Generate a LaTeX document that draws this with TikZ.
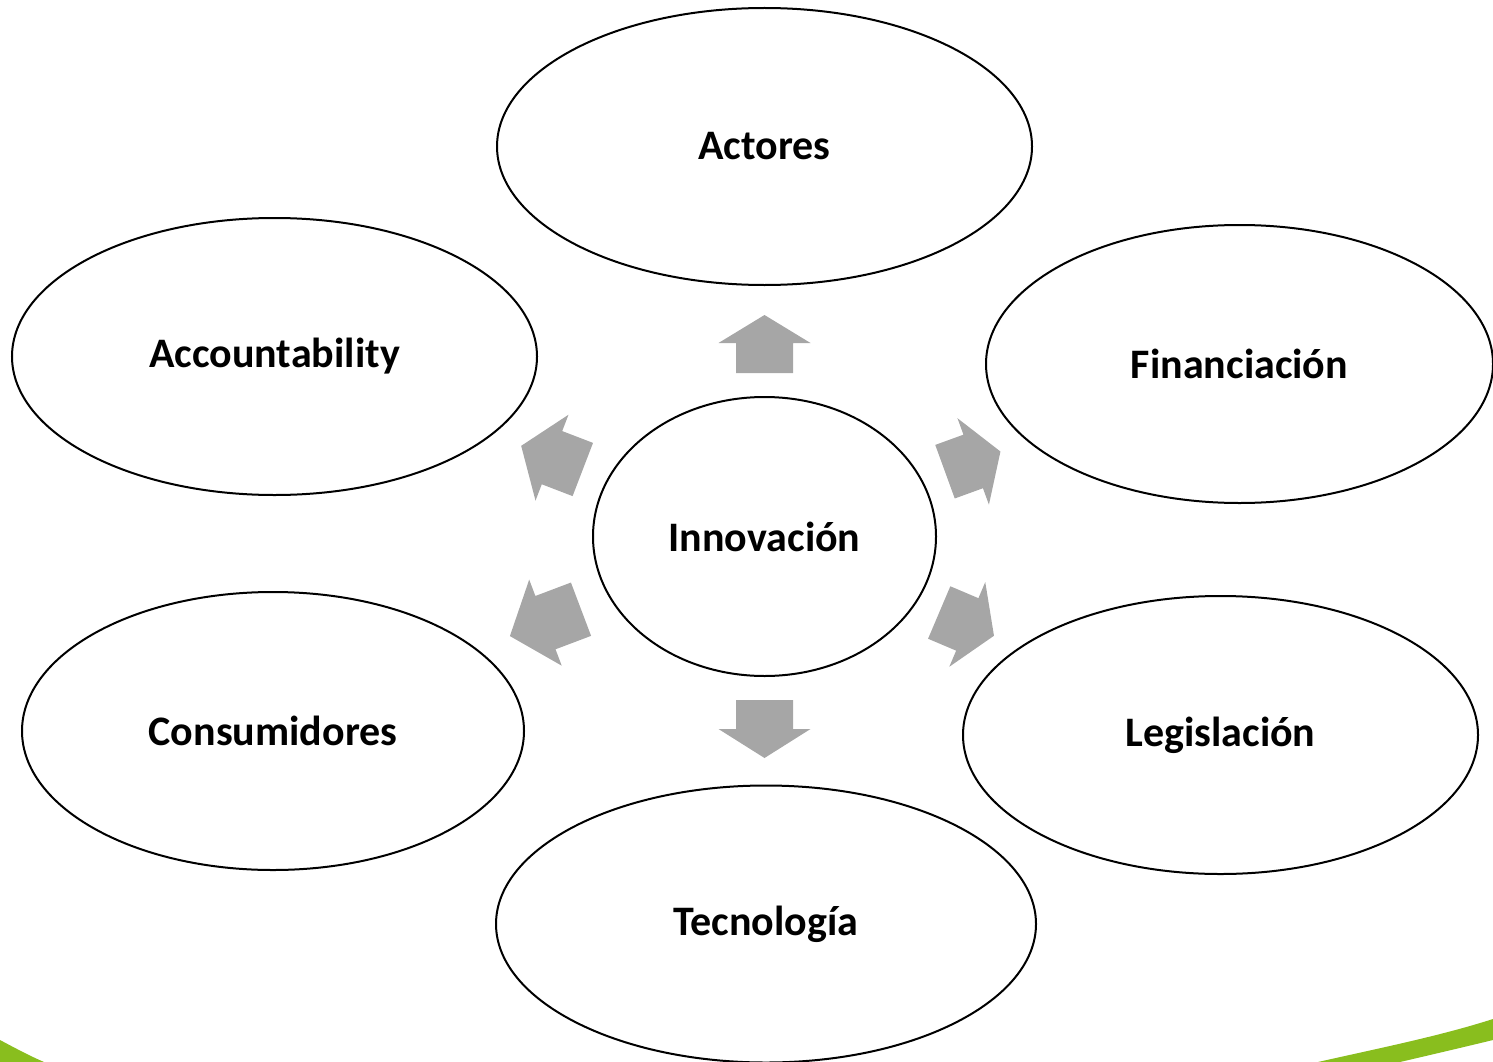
\documentclass[tikz,border=0pt]{standalone}
\usepackage{fontspec}
\setmainfont{Carlito}
\usetikzlibrary{shapes.geometric}
\definecolor{arrowgray}{RGB}{166,166,166}
\definecolor{swoosh}{RGB}{137,190,30}
\newcommand\blockarrow[5]{%
  \fill[arrowgray, shift={(#1,-#2)}, rotate=#3]
    (0,-28.5) -- ({#4-#5},-28.5) -- ({#4-#5},-46) -- (#4,0) --
    ({#4-#5},46) -- ({#4-#5},28.5) -- (0,28.5) -- cycle;}
\begin{document}
\begin{tikzpicture}[x=1pt,y=1pt,
  bubble/.style={ellipse, draw=black, line width=2pt, fill=white, inner sep=0pt,
    font=\fontsize{42}{47}\selectfont\bfseries}]
\useasboundingbox (0,0) rectangle (1493,-1062);
% green swooshes
\fill[swoosh] (0,-1040) .. controls (15,-1048) and (30,-1056) .. (44,-1062) -- (0,-1062) -- cycle;
\fill[swoosh] (1318,-1062) .. controls (1380,-1048) and (1440,-1036) .. (1493,-1019)
  -- (1493,-1040) .. controls (1460,-1048) and (1430,-1055) .. (1400,-1062) -- cycle;
% ellipses
\node[bubble, minimum width=535, minimum height=277] (actores) at (764.5,-146.5) {Actores};
\node[bubble, minimum width=525, minimum height=277] (account) at (274.5,-356.5) {Accountability};
\node[bubble, minimum width=507, minimum height=278] (financ) at (1239.5,-364) {Financiación};
\node[bubble, minimum width=343, minimum height=279] (innov) at (764.5,-536.5) {Innovación};
\node[bubble, minimum width=502, minimum height=278] (consum) at (273,-731) {Consumidores};
\node[bubble, minimum width=515, minimum height=278] (legis) at (1220.5,-735) {\raisebox{-2pt}{Legislación}};
\node[bubble, minimum width=540, minimum height=277] (tecno) at (766,-924) {\raisebox{-3pt}{Tecnología}};
% block arrows
\blockarrow{764.5}{373}{90}{58}{28}
\blockarrow{764.5}{700}{-90}{58}{29}
\blockarrow{582.8}{469.5}{159}{66}{33}
\blockarrow{945}{471.7}{20}{59}{29}
\blockarrow{581}{609.2}{200.7}{76}{38}
\blockarrow{939.2}{612.5}{-23}{59.5}{29}
\end{tikzpicture}
\end{document}
